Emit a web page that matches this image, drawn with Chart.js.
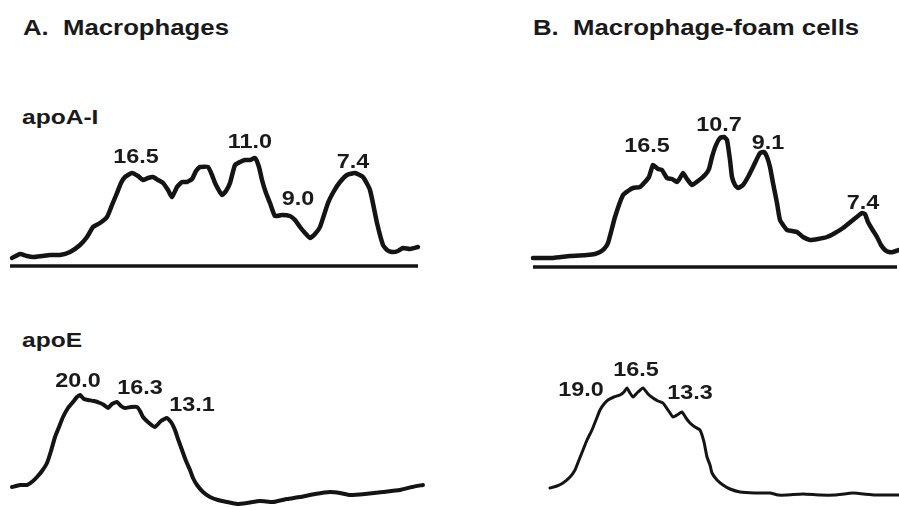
<!DOCTYPE html>
<html>
<head>
<meta charset="utf-8">
<script src="https://cdn.jsdelivr.net/npm/chart.js@4"></script>
<style>
  body { margin: 0; background: #fff; }
  #wrap { position: relative; width: 899px; height: 507px; overflow: hidden; font-family: "Liberation Sans", Arial, sans-serif; font-weight: bold; color: #1a1a1a; }
  canvas { position: absolute; }
  .lbl { position: absolute; line-height: 1; white-space: pre; transform: translate(-50%, -50%) scaleX(1.17); font-size: 20px; }
  .ttl { position: absolute; line-height: 1; white-space: pre; transform: translateY(-50%) scaleX(1.17); transform-origin: left center; }
</style>
</head>
<body>
<div id="wrap">
  <canvas id="aTop" style="left:0px;top:140px" width="430" height="135"></canvas>
  <canvas id="bTop" style="left:520px;top:120px" width="379" height="155"></canvas>
  <canvas id="aBot" style="left:0px;top:380px" width="430" height="127"></canvas>
  <canvas id="bBot" style="left:520px;top:380px" width="379" height="127"></canvas>
</div>
<script>
// densitometer traces: position along gel (px) and density (height above panel floor)
const aTopX = [12, 20, 27, 33, 42, 50, 60, 70, 80, 87, 93, 100, 107, 112, 117, 121, 125, 132, 138, 143, 148, 153, 158, 163, 168, 172, 177, 182, 187, 192, 196, 200, 208, 212, 215, 222, 226, 230, 235, 240, 245, 250, 255, 259, 262, 266, 270, 275, 282, 290, 295, 300, 305, 310, 315, 320, 328, 334, 340, 347, 355, 363, 370, 377, 383, 387, 392, 398, 403, 410, 418];
const aTopY = [17, 21, 19, 18, 19, 20, 20, 23, 30, 38, 48, 52, 58, 70, 82, 92, 98, 102, 99, 95, 97, 98, 95, 92, 85, 78, 88, 93, 93, 96, 104, 108, 108, 100, 92, 80, 84, 92, 110, 113, 115, 115, 117, 108, 95, 82, 72, 59, 60, 59, 55, 48, 42, 37, 41, 48, 72, 84, 93, 100, 102, 98, 85, 52, 30, 25, 23, 24, 27, 26, 28];

const bTopX = [13, 33, 50, 67, 75, 80, 84, 88, 95, 103, 108, 113, 120, 125, 129, 133, 138, 142, 147, 152, 157, 160, 163, 167, 172, 178, 185, 189, 192, 196, 200, 204, 207, 210, 212, 215, 218, 223, 228, 234, 240, 244, 247, 250, 253, 257, 260, 267, 272, 277, 283, 290, 298, 307, 315, 323, 333, 342, 345, 348, 352, 357, 361, 365, 369, 373, 379];
const bTopY = [17, 17, 19, 20, 21, 23, 26, 32, 58, 80, 84, 87, 88, 93, 98, 110, 106, 105, 97, 96, 93, 97, 102, 96, 90, 94, 100, 106, 118, 130, 137, 138, 135, 115, 98, 90, 87, 90, 98, 110, 122, 123, 118, 108, 92, 72, 55, 45, 44, 43, 38, 35, 36, 38, 42, 47, 55, 62, 61, 53, 46, 38, 30, 25, 23, 23, 25];

const aBotX = [12, 20, 27, 33, 37, 42, 47, 51, 55, 59, 63, 68, 73, 77, 80, 84, 88, 94, 100, 104, 108, 112, 117, 121, 125, 131, 137, 140, 143, 149, 155, 161, 167, 171, 175, 178, 182, 186, 190, 193, 197, 203, 210, 218, 227, 237, 247, 260, 273, 287, 300, 315, 330, 340, 350, 365, 383, 400, 412, 423];
const aBotY = [20, 22, 22, 26, 30, 36, 44, 56, 70, 80, 90, 99, 105, 110, 112, 108, 107, 106, 104, 102, 99, 103, 105, 101, 99, 100, 100, 96, 90, 84, 80, 86, 89, 85, 77, 68, 57, 46, 37, 29, 22, 15, 10, 7, 5, 3, 4, 6, 5, 8, 10, 13, 15, 14, 12, 13, 15, 17, 20, 22];

const bBotX = [30, 37, 43, 50, 55, 59, 63, 67, 72, 76, 80, 84, 88, 94, 100, 104, 107, 110, 113, 118, 123, 128, 133, 138, 143, 148, 153, 157, 162, 166, 170, 175, 180, 184, 187, 190, 192, 197, 203, 210, 220, 235, 250, 258, 267, 283, 300, 315, 333, 355, 379];
const bBotY = [19, 21, 24, 30, 37, 47, 57, 67, 77, 87, 97, 103, 107, 110, 112, 115, 119, 114, 110, 115, 119, 113, 109, 106, 104, 97, 90, 92, 95, 89, 84, 80, 77, 65, 50, 42, 34, 27, 22, 18, 15, 14, 14, 12, 12, 13, 12, 12, 14, 12, 12];

// baseline rules under apoA-I traces: [start, end, level]
const aTopBase = [10, 418, 9];
const bTopBase = [13, 377, 8];

// peak labels (kDa) with their positions on the page
const aTopPeaks = ['16.5', '11.0', '9.0', '7.4'];
const aTopPeakPos = [[136, 156], [250, 141], [298, 198], [353, 161]];
const bTopPeaks = ['16.5', '10.7', '9.1', '7.4'];
const bTopPeakPos = [[647, 145], [719, 124], [768, 142], [863, 202]];
const aBotPeaks = ['20.0', '16.3', '13.1'];
const aBotPeakPos = [[78, 380], [140, 387], [192, 404]];
const bBotPeaks = ['19.0', '16.5', '13.3'];
const bBotPeakPos = [[581, 389], [636, 369], [690, 392]];

const wrap = document.getElementById('wrap');

function addText(txt, x, y, cls, size) {
    const d = document.createElement('div');
    d.className = cls;
    d.textContent = txt;
    d.style.left = x + 'px';
    d.style.top = y + 'px';
    if (size) d.style.fontSize = size + 'px';
    wrap.appendChild(d);
}

function drawTrace(id, xs, ys, width, base) {
    const cv = document.getElementById(id);
    const datasets = [{
        data: xs.map((x, i) => ({ x: x, y: ys[i] })),
        borderColor: '#141414',
        borderWidth: width,
        pointRadius: 0,
        tension: 0.15,
        borderJoinStyle: 'round',
        borderCapStyle: 'round',
        fill: false,
        clip: false
    }];
    if (base) {
        datasets.push({
            data: [{ x: base[0], y: base[2] }, { x: base[1], y: base[2] }],
            borderColor: '#141414',
            borderWidth: 3.5,
            pointRadius: 0,
            clip: false
        });
    }
    new Chart(cv.getContext('2d'), {
        type: 'line',
        data: { datasets: datasets },
        options: {
            responsive: false,
            animation: false,
            layout: { padding: 0 },
            plugins: { legend: { display: false }, tooltip: { enabled: false } },
            scales: {
                x: { type: 'linear', min: 0, max: cv.width, display: false },
                y: { type: 'linear', min: 0, max: cv.height, display: false }
            }
        }
    });
}

drawTrace('aTop', aTopX, aTopY, 4.5, aTopBase);
drawTrace('bTop', bTopX, bTopY, 4.5, bTopBase);
drawTrace('aBot', aBotX, aBotY, 4, null);
drawTrace('bBot', bBotX, bBotY, 3, null);

addText('A.  Macrophages', 23, 28, 'ttl', 22);
addText('B.  Macrophage-foam cells', 533, 28, 'ttl', 22);
addText('apoA-I', 22, 116, 'ttl', 21);
addText('apoE', 22, 339, 'ttl', 21);

aTopPeaks.forEach((t, i) => addText(t, aTopPeakPos[i][0], aTopPeakPos[i][1], 'lbl'));
bTopPeaks.forEach((t, i) => addText(t, bTopPeakPos[i][0], bTopPeakPos[i][1], 'lbl'));
aBotPeaks.forEach((t, i) => addText(t, aBotPeakPos[i][0], aBotPeakPos[i][1], 'lbl'));
bBotPeaks.forEach((t, i) => addText(t, bBotPeakPos[i][0], bBotPeakPos[i][1], 'lbl'));
</script>
</body>
</html>
